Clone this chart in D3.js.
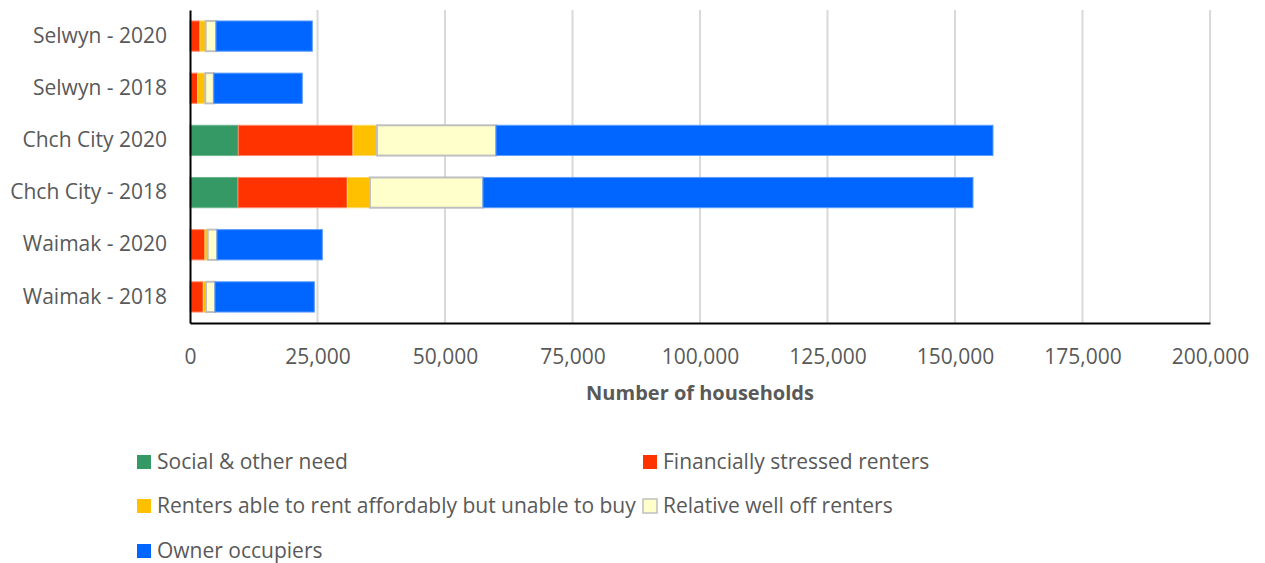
<!DOCTYPE html>
<html>
<head>
<meta charset="utf-8">
<script src="https://cdn.jsdelivr.net/npm/d3@7"></script>
<style>
body { margin: 0; background: #fff; }
text { font-family: "Open Sans", sans-serif; fill: #595959; }
</style>
</head>
<body>
<svg width="1265" height="563"></svg>
<script>
var categories = ["Selwyn - 2020", "Selwyn - 2018", "Chch City 2020", "Chch City - 2018", "Waimak - 2020", "Waimak - 2018"];
var social = [150, 120, 9470, 9400, 200, 150];
var stressed = [1810, 1380, 22490, 21450, 2740, 2460];
var unableToBuy = [1120, 1500, 4710, 4440, 530, 530];
var wellOff = [2020, 1650, 23330, 22160, 1820, 1760];
var owners = [18880, 17370, 97450, 96080, 20660, 19480];
var seriesNames = ["Social & other need", "Financially stressed renters", "Renters able to rent affordably but unable to buy", "Relative well off renters", "Owner occupiers"];
var xTicks = [0, 25000, 50000, 75000, 100000, 125000, 150000, 175000, 200000];

var colors = ["#359966", "#FF3300", "#FFC000", "#FFFFCC", "#0066FF"];
var strokes = ["#6cb68e", "#ff8a6b", "#ffd966", "#BFBFBF", "#5c9dff"];
var strokeW = [1, 1, 1, 2, 1];

var svg = d3.select("svg");
var mLeft = 190, mRight = 1210, mTop = 10, mBottom = 323;

var x = d3.scaleLinear().domain([0, 200000]).range([mLeft, mRight]);
var y = d3.scaleBand().domain(categories).range([mTop, mBottom]).paddingInner(0.42).paddingOuter(0.21);

var rows = categories.map(function (c, i) {
  return { cat: c, social: social[i], stressed: stressed[i], unableToBuy: unableToBuy[i], wellOff: wellOff[i], owners: owners[i] };
});
var keys = ["social", "stressed", "unableToBuy", "wellOff", "owners"];
var stack = d3.stack().keys(keys)(rows);

// grid
svg.append("g").selectAll("line").data(xTicks.slice(1)).enter().append("line")
  .attr("x1", function (d) { return x(d); }).attr("x2", function (d) { return x(d); })
  .attr("y1", mTop).attr("y2", mBottom)
  .attr("stroke", "#D9D9D9").attr("stroke-width", 2);

// bars
stack.forEach(function (layer, k) {
  svg.append("g").selectAll("rect").data(layer).enter().append("rect")
    .attr("x", function (d) { return x(d[0]); })
    .attr("y", function (d) { return y(d.data.cat); })
    .attr("width", function (d) { return x(d[1]) - x(d[0]); })
    .attr("height", y.bandwidth())
    .attr("fill", colors[k])
    .attr("stroke", strokes[k])
    .attr("stroke-width", strokeW[k]);
});

// axes
var xAxis = svg.append("g").attr("transform", "translate(0," + mBottom + ")")
  .call(d3.axisBottom(x).tickValues(xTicks).tickSize(0).tickPadding(26).tickFormat(d3.format(",")));
xAxis.select(".domain").attr("stroke", "#000").attr("stroke-width", 2);
xAxis.selectAll("text").attr("font-size", 21).attr("fill", "#595959").attr("font-family", "Open Sans");

var yAxis = svg.append("g").attr("transform", "translate(" + mLeft + ",0)")
  .call(d3.axisLeft(y).tickSize(0).tickPadding(23));
yAxis.select(".domain").attr("stroke", "#000").attr("stroke-width", 2);
yAxis.selectAll("text").attr("font-size", 21).attr("fill", "#595959").attr("font-family", "Open Sans");

svg.append("text").attr("x", 700).attr("y", 400).attr("text-anchor", "middle")
  .attr("font-size", 20).attr("font-weight", "bold").text("Number of households");

// legend
var legPos = [[137, 462], [643, 462], [137, 506], [643, 506], [137, 551]];
var leg = svg.append("g").selectAll("g").data(seriesNames).enter().append("g")
  .attr("transform", function (d, i) { return "translate(" + legPos[i][0] + "," + legPos[i][1] + ")"; });
leg.append("rect").attr("x", 0).attr("y", -7).attr("width", 14).attr("height", 14)
  .attr("fill", function (d, i) { return colors[i]; })
  .attr("stroke", function (d, i) { return i === 3 ? "#BFBFBF" : "none"; })
  .attr("stroke-width", 1.5);
leg.append("text").attr("x", 20).attr("y", 0).attr("dy", "0.35em")
  .attr("font-size", 21).text(function (d) { return d; });
</script>
</body>
</html>
